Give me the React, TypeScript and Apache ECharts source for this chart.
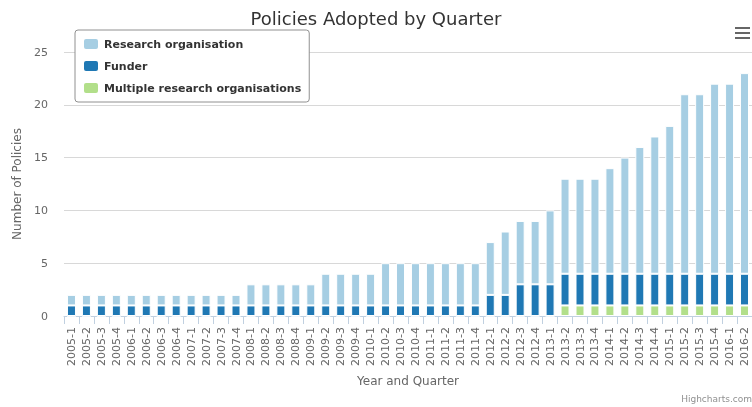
import React, { useEffect, useRef } from "react";
import * as echarts from "echarts";

const categories: string[] = [
  "2005-1", "2005-2", "2005-3", "2005-4",
  "2006-1", "2006-2", "2006-3", "2006-4",
  "2007-1", "2007-2", "2007-3", "2007-4",
  "2008-1", "2008-2", "2008-3", "2008-4",
  "2009-1", "2009-2", "2009-3", "2009-4",
  "2010-1", "2010-2", "2010-3", "2010-4",
  "2011-1", "2011-2", "2011-3", "2011-4",
  "2012-1", "2012-2", "2012-3", "2012-4",
  "2013-1", "2013-2", "2013-3", "2013-4",
  "2014-1", "2014-2", "2014-3", "2014-4",
  "2015-1", "2015-2", "2015-3", "2015-4",
  "2016-1", "2016-2",
];

const researchOrganisation: number[] = [
  1, 1, 1, 1, 1, 1, 1, 1, 1, 1, 1, 1,
  2, 2, 2, 2, 2,
  3, 3, 3, 3,
  4, 4, 4, 4, 4, 4, 4,
  5, 6, 6, 6, 7,
  9, 9, 9, 10, 11, 12, 13, 14, 17, 17, 18, 18, 19,
];

const funder: number[] = [
  1, 1, 1, 1, 1, 1, 1, 1, 1, 1, 1, 1,
  1, 1, 1, 1, 1,
  1, 1, 1, 1,
  1, 1, 1, 1, 1, 1, 1,
  2, 2, 3, 3, 3,
  3, 3, 3, 3, 3, 3, 3, 3, 3, 3, 3, 3, 3,
];

const multipleResearchOrganisations: number[] = [
  0, 0, 0, 0, 0, 0, 0, 0, 0, 0, 0, 0,
  0, 0, 0, 0, 0,
  0, 0, 0, 0,
  0, 0, 0, 0, 0, 0, 0,
  0, 0, 0, 0, 0,
  1, 1, 1, 1, 1, 1, 1, 1, 1, 1, 1, 1, 1,
];

const yTicks: number[] = [0, 5, 10, 15, 20, 25];

const FONT = '"DejaVu Sans", Verdana, Arial, sans-serif';

export default function App() {
  const ref = useRef<HTMLDivElement>(null);

  useEffect(() => {
    if (!ref.current) return;
    const chart = echarts.init(ref.current, null, { renderer: "svg" });
    const barCommon = {
      type: "bar" as const,
      stack: "total",
      barWidth: 9,
      itemStyle: { borderColor: "#ffffff", borderWidth: 1 },
      emphasis: { disabled: true },
    };
    chart.setOption({
      animation: false,
      textStyle: { fontFamily: FONT },
      title: {
        text: "Policies Adopted by Quarter",
        left: "center",
        top: 4,
        textStyle: { fontFamily: FONT, fontSize: 18, fontWeight: "normal", color: "#333333" },
      },
      legend: {
        orient: "vertical",
        left: 75,
        top: 30,
        padding: [7, 8, 7, 7],
        itemGap: 8,
        itemWidth: 16,
        itemHeight: 12,
        borderColor: "#909090",
        borderWidth: 1,
        borderRadius: 3,
        backgroundColor: "#ffffff",
        data: ["Research organisation", "Funder", "Multiple research organisations"],
        textStyle: { fontFamily: FONT, fontSize: 11, fontWeight: "bold", color: "#333333" },
        selectedMode: false,
      },
      grid: { left: 64, right: -2, top: 52, bottom: 91, containLabel: false },
      xAxis: {
        type: "category",
        data: categories,
        name: "Year and Quarter",
        nameLocation: "middle",
        nameGap: 59,
        nameTextStyle: { fontFamily: FONT, fontSize: 12, color: "#666666" },
        axisLine: { lineStyle: { color: "#C0D0E0" } },
        axisTick: { show: true, length: 8, lineStyle: { color: "#C0D0E0" } },
        axisLabel: {
          rotate: 90,
          interval: 0,
          fontFamily: FONT,
          fontSize: 11,
          color: "#666666",
          margin: 11,
        },
      },
      yAxis: {
        type: "value",
        min: yTicks[0],
        max: yTicks[yTicks.length - 1],
        interval: 5,
        name: "Number of Policies",
        nameLocation: "middle",
        nameGap: 39,
        nameTextStyle: { fontFamily: FONT, fontSize: 12, color: "#666666" },
        axisLine: { show: false },
        axisTick: { show: false },
        axisLabel: { fontFamily: FONT, fontSize: 11, color: "#666666", margin: 16 },
        splitLine: { lineStyle: { color: "#D8D8D8" } },
      },
      series: [
        {
          ...barCommon,
          name: "Multiple research organisations",
          data: multipleResearchOrganisations,
          itemStyle: { ...barCommon.itemStyle, color: "#b2df8a" },
        },
        {
          ...barCommon,
          name: "Funder",
          data: funder,
          itemStyle: { ...barCommon.itemStyle, color: "#1f78b4" },
        },
        {
          ...barCommon,
          name: "Research organisation",
          data: researchOrganisation,
          itemStyle: { ...barCommon.itemStyle, color: "#a6cee3" },
        },
      ],
      graphic: [
        { type: "rect", right: 2, top: 27, shape: { width: 15, height: 2 }, style: { fill: "#666666" } },
        { type: "rect", right: 2, top: 32, shape: { width: 15, height: 2 }, style: { fill: "#666666" } },
        { type: "rect", right: 2, top: 37, shape: { width: 15, height: 2 }, style: { fill: "#666666" } },
        {
          type: "text",
          right: 0,
          bottom: 4,
          style: { text: "Highcharts.com", fontFamily: FONT, fontSize: 9, fill: "#909090" },
        },
      ],
    });
    return () => chart.dispose();
  }, []);

  return (
    <div
      ref={ref}
      style={{ position: "fixed", left: 0, top: 0, width: 752, height: 407 }}
    />
  );
}
